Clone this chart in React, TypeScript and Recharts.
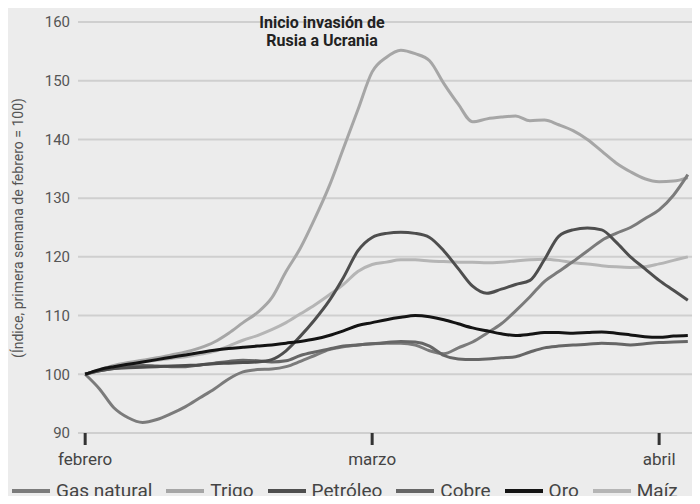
import { LineChart, Line, XAxis, YAxis, CartesianGrid, Legend, Customized } from 'recharts';

// indices in trading days from first week of February (marzo = 20, abril = 40)
const gasNatural = [100, 97.5, 94.3, 92.6, 91.8, 92.3, 93.3, 94.5, 96, 97.5, 99.2, 100.4, 100.8, 100.9, 101.3, 102.2, 103.2, 104.2, 104.7, 105, 105.2, 105.3, 105.3, 105, 104, 103.5, 104.5, 105.5, 107, 108.6, 110.8, 113.2, 115.8, 117.5, 119.2, 121, 122.8, 124, 125, 126.5, 128, 130.5, 134];
const trigo = [100, 100.7, 101.5, 102, 102.4, 102.8, 103.3, 103.8, 104.5, 105.5, 107, 108.8, 110.5, 113, 117.5, 121.5, 126.5, 132, 138.5, 145, 151.5, 154, 155.2, 154.6, 153.4, 149.5, 146, 143, 143.5, 143.8, 144, 143.2, 143.3, 142.5, 141.5, 140, 138, 136, 134.5, 133.3, 132.8, 132.9, 133.5];
const petroleo = [100, 100.6, 101, 101.1, 101.2, 101.3, 101.4, 101.5, 101.6, 101.8, 101.9, 102, 102.1, 102.5, 104, 106.5, 109.3, 112.5, 116.5, 121, 123.3, 124, 124.2, 124, 123.3, 121, 118, 115, 113.8, 114.5, 115.3, 116, 119.5, 123.5, 124.6, 124.9, 124.6, 122.5, 120, 118, 116, 114.3, 112.6];
const cobre = [100, 100.6, 101, 101.3, 101.5, 101.4, 101.3, 101.3, 101.6, 101.9, 102.2, 102.4, 102.3, 102.1, 102.3, 103.2, 103.8, 104.3, 104.8, 105, 105.2, 105.4, 105.6, 105.5, 104.8, 103.2, 102.6, 102.5, 102.6, 102.8, 103, 103.8, 104.5, 104.8, 105, 105.1, 105.3, 105.2, 105, 105.2, 105.4, 105.5, 105.6];
const oro = [100, 100.8, 101.3, 101.7, 102.1, 102.5, 102.9, 103.3, 103.7, 104.1, 104.4, 104.6, 104.8, 105, 105.3, 105.6, 106, 106.6, 107.4, 108.3, 108.8, 109.3, 109.7, 110, 109.8, 109.3, 108.6, 107.9, 107.4, 106.9, 106.6, 106.8, 107.1, 107.1, 107, 107.1, 107.2, 107, 106.7, 106.4, 106.3, 106.5, 106.6];
const maiz = [100, 100.8, 101.4, 101.8, 102.1, 102.4, 102.7, 103, 103.4, 103.9, 104.8, 105.8, 106.6, 107.6, 108.8, 110.3, 111.8, 113.5, 115.3, 117.5, 118.7, 119.1, 119.5, 119.5, 119.3, 119.2, 119.1, 119.1, 119, 119.1, 119.3, 119.5, 119.6, 119.4, 119, 118.8, 118.5, 118.3, 118.2, 118.3, 118.8, 119.4, 120];

const mesTicks = [0, 20, 40];
const mesLabels: Record<number, string> = { 0: 'febrero', 20: 'marzo', 40: 'abril' };
const yTicks = [90, 100, 110, 120, 130, 140, 150, 160];

const series = [
  { key: 'maiz', name: 'Maíz', color: '#b5b5b5' },
  { key: 'trigo', name: 'Trigo', color: '#a6a6a6' },
  { key: 'gas', name: 'Gas natural', color: '#7b7b7b' },
  { key: 'cobre', name: 'Cobre', color: '#666666' },
  { key: 'petroleo', name: 'Petróleo', color: '#4e4e4e' },
  { key: 'oro', name: 'Oro', color: '#141414' },
];
const legendOrder = ['gas', 'trigo', 'petroleo', 'cobre', 'oro', 'maiz'];

const data = gasNatural.map((v, i) => ({
  t: i,
  gas: v,
  trigo: trigo[i],
  petroleo: petroleo[i],
  cobre: cobre[i],
  oro: oro[i],
  maiz: maiz[i],
}));

const FONT = "Roboto, sans-serif";

function LegendRow() {
  return (
    <div style={{ display: 'flex', alignItems: 'center', fontFamily: FONT, fontSize: 19, color: '#444', whiteSpace: 'nowrap' }}>
      {legendOrder.map((k) => {
        const s = series.find((x) => x.key === k)!;
        return (
          <span key={k} style={{ display: 'flex', alignItems: 'center', marginRight: 14 }}>
            <svg width={38} height={8} style={{ marginRight: 6 }}>
              <line x1={0} x2={38} y1={4} y2={4} stroke={s.color} strokeWidth={4} />
            </svg>
            {s.name}
          </span>
        );
      })}
    </div>
  );
}

function Annotations() {
  return (
    <g fontFamily={FONT}>
      <text x={322} y={28} textAnchor="middle" fontSize={16} fontWeight="bold" fill="#222">Inicio invasión de</text>
      <text x={322} y={46} textAnchor="middle" fontSize={16} fontWeight="bold" fill="#222">Rusia a Ucrania</text>
      <text x={23} y={228} textAnchor="middle" fontSize={14} fill="#555" transform="rotate(-90 23 228)">
        (Índice, primera semana de febrero = 100)
      </text>
    </g>
  );
}

export default function App() {
  return (
    <div style={{ margin: -8, width: 700, height: 504, background: '#ececec', position: 'relative', overflow: 'hidden' }}>
      <LineChart width={700} height={504} data={data} margin={{ top: 22, right: 5, left: 0, bottom: 0 }}>
        <CartesianGrid vertical={false} stroke="#cfcfcf" strokeWidth={2} />
        <XAxis
          dataKey="t"
          type="number"
          domain={[-0.5, 42.5]}
          ticks={mesTicks}
          tickFormatter={(v: number) => mesLabels[v]}
          height={71}
          axisLine={false}
          tickLine={{ stroke: '#333', strokeWidth: 3 }}
          tickSize={12}
          tickMargin={8}
          tick={{ fill: '#444', fontSize: 17, fontFamily: FONT }}
        />
        <YAxis
          domain={[90, 160]}
          ticks={yTicks}
          width={78}
          axisLine={false}
          tickLine={false}
          tick={{ fill: '#555', fontSize: 15, fontFamily: FONT }}
        />
        {series.map((s) => (
          <Line
            key={s.key}
            dataKey={s.key}
            name={s.name}
            type="monotone"
            stroke={s.color}
            strokeWidth={3}
            dot={false}
            isAnimationActive={false}
          />
        ))}
        <Legend
          layout="horizontal"
          verticalAlign="middle"
          align="center"
          content={() => <LegendRow />}
          wrapperStyle={{ top: 479, left: 12, width: 720 }}
        />
        <Customized component={Annotations} />
      </LineChart>
    </div>
  );
}
